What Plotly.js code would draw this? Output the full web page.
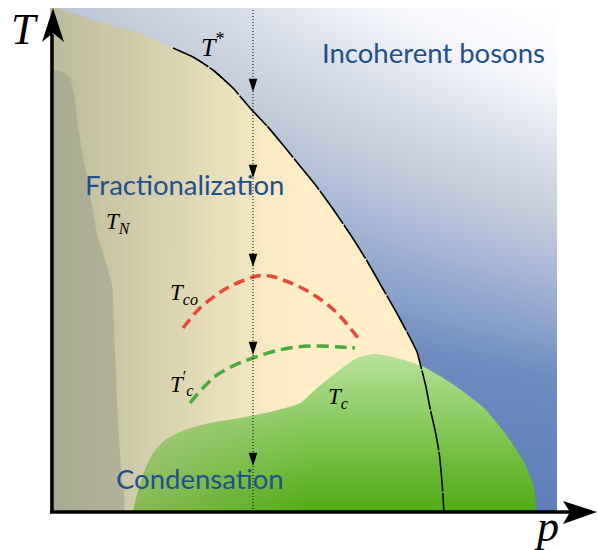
<!DOCTYPE html>
<html><head><meta charset="utf-8">
<script src="https://cdn.plot.ly/plotly-3.0.1.min.js"></script>
<style>html,body{margin:0;padding:0;background:#fff}#chart{width:597px;height:550px}</style>
</head><body><div id="chart"></div>
<script>
// Schematic phase diagram, p (x) vs T (y) in arbitrary units
const bgP = [0, 507];
const bgT = [0, 504];
const bgShade = [[0.00, 0.05], [0.55, 1.00]];

const fracEdgeP = [0, 0, 20, 50, 90];
const fracEdgeT = [0, 504, 500, 490, 479];

const tStarP = [123,143,163,183,200,217,233,250,267,283,300,317,333,350,367,370,376,380,385,389,392,394];
const tStarT = [464,455,442,424,404,386,367,346,325,303,278,251,223,193,160,149,125,104,82,60,30,0];

const tnP = [0,3,13,20,24,29,38,47,55,62,65,68,71,73,0];
const tnT = [442,442,440,434,417,379,329,279,252,227,162,92,42,0,0];

const tcP = [83,87,93,102,115,135,160,190,220,250,267,287,307,325,347,374,404,434,454,474,484,486];
const tcT = [0,17,37,57,72,82,89,94,100,109,124,140,154,158,154,145,127,104,80,50,24,0];

const tcoP = [133,150,165,177,192,207,220,233,250,267,287,308];
const tcoT = [184,204,216,224,231,236,236,232,225,215,199,174];

const tcpP = [140,153,167,185,203,225,247,270,290,305];
const tcpT = [109,124,137,147,154,161,165,166,165,164];

const cutP = [203, 203];
const cutT = [0, 504];
const arrowT = [420, 334, 245, 157, 46];

const regionText = ['Incoherent bosons', 'Fractionalization', 'Condensation'];
const regionP = [383, 134, 150];
const regionT = [460, 328, 34];

const mathText = ['<i>T</i><sup>*</sup>', '<i>T</i><sub><i>N</i></sub>', '<i>T</i><sub><i>co</i></sub>', '<i>T</i><sup>′</sup><sub><i>c</i></sub>', '<i>T</i><sub><i>c</i></sub>'];
const mathP = [163, 68, 134, 131, 288];
const mathT = [467, 289, 218, 129, 114];

const axisText = ['<i>T</i>', '<i>p</i>'];
const axisP = [-41, 482];
const axisT = [509, -41];

// ---- helpers (style only) ----
const W = 507, H = 504;
const px = v => v / W, py = v => v / H;

const fracP = fracEdgeP.concat(tStarP);
const fracT = fracEdgeT.concat(tStarT);

const traces = [
  {type:'heatmap', x:bgP, y:bgT, z:bgShade, zsmooth:'best', zmin:0, zmax:1, showscale:false, hoverinfo:'skip',
   colorscale:[[0,'rgb(92,122,183)'],[0.3,'rgb(110,140,192)'],[0.5,'rgb(170,185,215)'],[0.6,'rgb(196,204,218)'],[0.72,'rgb(218,224,235)'],[0.85,'rgb(245,247,252)'],[1,'rgb(255,255,255)']]},
  {type:'scatter', x:fracP, y:fracT, mode:'lines', fill:'toself', line:{width:0, shape:'spline', smoothing:0.5}, hoverinfo:'skip',
   fillgradient:{type:'horizontal', start:0, stop:260, colorscale:[[0,'rgb(188,187,158)'],[0.3,'rgb(206,201,168)'],[0.6,'rgb(228,220,184)'],[0.85,'rgb(248,234,197)'],[1,'rgb(255,238,200)']]}},
  {type:'scatter', x:tnP, y:tnT, mode:'lines', fill:'toself', fillcolor:'rgba(140,148,132,0.42)', line:{width:0, shape:'spline', smoothing:0.6}, hoverinfo:'skip'},
  {type:'scatter', x:tcP, y:tcT, mode:'lines', fill:'toself', line:{width:0, shape:'spline', smoothing:0.7}, hoverinfo:'skip',
   fillgradient:{type:'vertical', start:0, stop:158, colorscale:[[0,'rgb(80,172,20)'],[0.5,'rgb(130,198,85)'],[1,'rgb(185,225,155)']]}},
  {type:'scatter', x:tcP, y:tcT, mode:'lines', fill:'toself', line:{width:0, shape:'spline', smoothing:0.7}, hoverinfo:'skip',
   fillgradient:{type:'horizontal', start:80, stop:260, colorscale:[[0,'rgba(205,200,168,0.45)'],[1,'rgba(205,200,168,0)']]}},
  {type:'scatter', x:tStarP, y:tStarT, mode:'lines', line:{color:'black', width:1.6, dash:'40px,1.5px', shape:'spline', smoothing:0.5}, hoverinfo:'skip'},
  {type:'scatter', x:tcoP, y:tcoT, mode:'lines', line:{color:'rgb(232,72,60)', width:3.5, dash:'11px,6px', shape:'spline'}, hoverinfo:'skip'},
  {type:'scatter', x:tcpP, y:tcpT, mode:'lines', line:{color:'rgb(74,170,60)', width:3.5, dash:'12px,6px', shape:'spline'}, hoverinfo:'skip'},
  {type:'scatter', x:cutP, y:cutT, mode:'lines', line:{color:'black', width:1, dash:'1px,2px'}, hoverinfo:'skip'},
  {type:'scatter', x:arrowT.map(() => cutP[0]), y:arrowT, mode:'markers', hoverinfo:'skip',
   marker:{symbol:'arrow', angle:180, size:14, color:'black', line:{width:0}}}
];

const shapes = [
  {type:'line', xref:'paper', yref:'paper', x0:px(2), x1:px(2), y0:py(0), y1:py(478), line:{color:'black', width:3.5}},
  {type:'path', xref:'paper', yref:'paper', fillcolor:'black', line:{width:0},
   path:`M${px(3)},${py(504)} L${px(-8)},${py(470)} L${px(3)},${py(479)} L${px(14)},${py(470)} Z`},
  {type:'line', xref:'paper', yref:'paper', x0:px(0), x1:px(520), y0:py(0), y1:py(0), line:{color:'black', width:3.5}},
  {type:'path', xref:'paper', yref:'paper', fillcolor:'black', line:{width:0},
   path:`M${px(547)},${py(0)} L${px(513)},${py(11)} L${px(520)},${py(0)} L${px(513)},${py(-12)} Z`}
];

const annotations = [];
regionText.forEach((t, i) => annotations.push({x:regionP[i], y:regionT[i], xref:'x', yref:'y', text:t, showarrow:false,
  font:{family:'Lato', size:27.5, color:'rgb(30,80,140)'}}));
mathText.forEach((t, i) => annotations.push({x:mathP[i], y:mathT[i], xref:'x', yref:'y', text:t, showarrow:false,
  font:{family:'Liberation Serif', size:i === 0 ? 26 : 23, color:'black'}}));
axisText.forEach((t, i) => annotations.push({x:px(axisP[i]), y:py(axisT[i]), xref:'paper', yref:'paper', text:t, showarrow:false,
  xanchor:'left', yanchor: i === 0 ? 'top' : 'bottom',
  font:{family:'Liberation Serif', size:44, color:'black'}}));

const layout = {
  width:597, height:550, margin:{l:50, r:40, t:8, b:38},
  paper_bgcolor:'white', plot_bgcolor:'white', showlegend:false,
  xaxis:{range:[0, W], visible:false, fixedrange:true},
  yaxis:{range:[0, H], visible:false, fixedrange:true},
  shapes:shapes, annotations:annotations
};
Plotly.newPlot('chart', traces, layout, {displayModeBar:false, staticPlot:true});
</script>
</body></html>
